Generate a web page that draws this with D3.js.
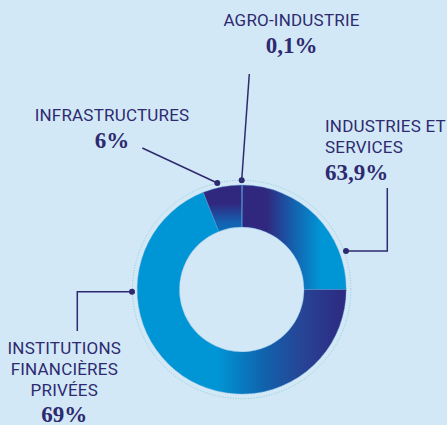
<!DOCTYPE html>
<html>
<head>
<meta charset="utf-8">
<script src="https://cdn.jsdelivr.net/npm/d3@7"></script>
<style>
  html, body { margin: 0; padding: 0; background: #d3e8f6; }
  svg { display: block; }
</style>
</head>
<body>
<svg id="chart" width="447" height="425"></svg>
<script>
// ---- data (clockwise from 12 o'clock) ----
const categories = ["AGRO-INDUSTRIE", "INDUSTRIES ET SERVICES", "INSTITUTIONS FINANCIÈRES PRIVÉES", "INFRASTRUCTURES"];
const shares = [0.1, 24.9, 69, 6];               // arc sizes as drawn (%)
const shareLabels = ["0,1%", "63,9%", "69%", "6%"]; // printed labels
const labelLines = [
  ["AGRO-INDUSTRIE"],
  ["INDUSTRIES ET", "SERVICES"],
  ["INSTITUTIONS", "FINANCIÈRES", "PRIVÉES"],
  ["INFRASTRUCTURES"]
];

// ---- layout ----
const W = 447, H = 425;
const cx = 241.7, cy = 289.5;
const rOuter = 104.5, rInner = 62.4, rDots = 109.2;
const ink = "#2d2a70";
const dark = "#30287f", mid = "#0f64ae", light = "#0096d6";

const svg = d3.select("#chart");
svg.append("rect").attr("width", W).attr("height", H).attr("fill", "#d3e8f6");

const defs = svg.append("defs");
function grad(id, attrs, stops) {
  const g = defs.append("linearGradient").attr("id", id).attr("gradientUnits", "userSpaceOnUse");
  Object.entries(attrs).forEach(([k, v]) => g.attr(k, v));
  stops.forEach(([o, c]) => g.append("stop").attr("offset", o).attr("stop-color", c));
}
grad("gIndus", {x1: 0, y1: 0, x2: 105, y2: 0},
  [[0, dark], [0.24, dark], [0.49, "#1560ae"], [0.76, light], [1, light]]);
grad("gInst", {x1: -105, y1: 0, x2: 105, y2: 0},
  [[0, light], [0.38, light], [0.6, mid], [0.78, "#274596"], [1, "#2e2880"]]);
grad("gInfra", {x1: 0, y1: -105, x2: 0, y2: -57},
  [[0, dark], [0.4, dark], [0.78, "#1560b0"], [1, "#0a72bc"]]);
const fills = ["#5ab4e6", "url(#gIndus)", "url(#gInst)", "url(#gInfra)"];

const g = svg.append("g").attr("transform", `translate(${cx},${cy})`);

// dotted guide circle
g.append("circle").attr("r", rDots).attr("fill", "none")
  .attr("stroke", "#86cdd6").attr("stroke-width", 1).attr("stroke-dasharray", "1 1.6");

const pie = d3.pie().sort(null).value(d => d)(shares);
const arc = d3.arc().innerRadius(rInner).outerRadius(rOuter);

g.selectAll("path.slice").data(pie).join("path")
  .attr("class", "slice")
  .attr("d", arc)
  .attr("fill", (d, i) => fills[i])
  .attr("stroke", (d, i) => i === 0 ? "#5ab4e6" : "#5aa6dc")
  .attr("stroke-width", (d, i) => i === 0 ? 0.8 : 0.4);

// ---- labels & leaders ----
const leaders = [
  {dot: [241.7, 180.3], path: [[249.3, 74], [241.7, 180.3]]},
  {dot: [346, 251], path: [[387.3, 188], [387.3, 251], [346, 251]]},
  {dot: [132, 291.7], path: [[77.3, 331], [77.3, 291.7], [132, 291.7]]},
  {dot: [217.3, 183], path: [[142.3, 148], [217.3, 183]]}
];
const labelPos = [
  {x: 291.5, anchor: "middle", baselines: [25.7], pct: 53.3},
  {x: 325, anchor: "start", baselines: [131.7, 153.3], pct: 180},
  {x: 64.3, anchor: "middle", baselines: [354, 374.5, 395.7], pct: 421.7},
  {x: 112, anchor: "middle", baselines: [121], pct: 147.7}
];

const line = d3.line();
categories.forEach((c, i) => {
  svg.append("path").attr("d", line(leaders[i].path))
    .attr("fill", "none").attr("stroke", ink).attr("stroke-width", 1.5);
  svg.append("circle").attr("cx", leaders[i].dot[0]).attr("cy", leaders[i].dot[1])
    .attr("r", 3).attr("fill", ink);
  const lp = labelPos[i];
  labelLines[i].forEach((t, j) => {
    svg.append("text").attr("x", lp.x).attr("y", lp.baselines[j])
      .attr("text-anchor", lp.anchor)
      .attr("font-family", "Roboto, 'Liberation Sans', sans-serif")
      .attr("font-size", 17).attr("fill", ink)
      .attr("letter-spacing", 0.2)
      .text(t);
  });
  svg.append("text").attr("x", lp.x).attr("y", lp.pct)
    .attr("text-anchor", lp.anchor)
    .attr("font-family", "'Liberation Serif', 'DejaVu Serif', serif")
    .attr("font-weight", "bold")
    .attr("font-size", 23).attr("fill", ink)
    .text(shareLabels[i]);
});
</script>
</body>
</html>
